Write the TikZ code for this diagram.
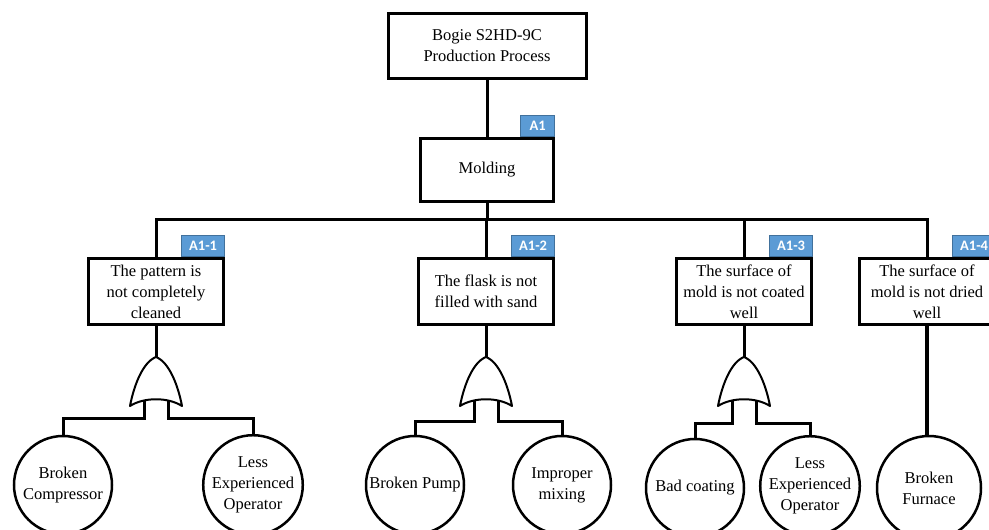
\documentclass[tikz,border=0pt]{standalone}
\usepackage{fontspec}
\setmainfont{Liberation Serif}
\newfontfamily\tagfont{Carlito}
\usetikzlibrary{calc}
\definecolor{tagblue}{HTML}{5B9BD5}
\definecolor{tagedge}{HTML}{41719C}
\begin{document}
\begin{tikzpicture}[x=1pt,y=-1pt,
  every node/.style={font=\fontsize{16.5}{21}\selectfont, align=center},
  box/.style={draw, line width=3pt, fill=white, inner sep=0pt, minimum width=135pt, minimum height=66pt},
  evt/.style={draw, circle, line width=2.5pt, fill=white, inner sep=0pt, minimum size=98pt},
  tag/.style={draw=tagedge, line width=0.8pt, fill=tagblue, text=white, inner sep=0pt,
     minimum height=21pt, minimum width=43pt, font=\tagfont\bfseries\fontsize{14.5}{14.5}\selectfont, anchor=south east},
  conn/.style={line width=3pt, line join=miter},
  gateline/.style={line width=2pt, fill=white, line join=round},
  orgate/.pic={
    \draw[gateline] (0,0) .. controls (13,5) and (22,28) .. (26,49)
       .. controls (12,40) and (-12,40) .. (-26,49)
       .. controls (-22,28) and (-13,5) .. (0,0) -- cycle;
    \coordinate (-top) at (0,0);
    \coordinate (-l) at (-12,44);
    \coordinate (-r) at (12,44);
  }]
\useasboundingbox (0,0) rectangle (989,530);

% top levels
\node[box, minimum width=198pt, minimum height=65pt] (top) at (487,45.5) {Bogie S2HD-9C\\Production Process};
\node[box, minimum width=133pt, minimum height=63pt] (mold) at (487,169.5) {Molding};
\node[tag, minimum width=34pt] (tA1) at (mold.north east) {A1};

% second level boxes
\node[box] (b1) at (156,291.5) {The pattern is\\not completely\\cleaned};
\node[box] (b2) at (486,291.5) {The flask is not\\filled with sand};
\node[box] (b3) at (744,291.5) {The surface of\\mold is not coated\\well};
\node[box] (b4) at (927,291.5) {The surface of\\mold is not dried\\well};
\node[tag] (t1) at (b1.north east) {A1-1};
\node[tag] (t2) at (b2.north east) {A1-2};
\node[tag] (t3) at (b3.north east) {A1-3};
\node[tag] (t4) at (b4.north east) {A1-4};

\coordinate (bus) at (487,219);
\draw[conn] (top.south) -- (mold.north);
\draw[conn] (mold.south) -- (bus);
\draw[conn] (b1.north) -- (b1.north |- bus) -- (b4.north |- bus) -- (b4.north);
\draw[conn] (b2.north) -- (b2.north |- bus);
\draw[conn] (b3.north) -- (b3.north |- bus);

% basic events
\node[evt] (c11) at (63,485) {Broken\\Compressor};
\node[evt] (c12) at (253,485) {Less\\Experienced\\Operator};
\node[evt] (c21) at (415,485) {Broken Pump};
\node[evt] (c22) at (562,485) {Improper\\mixing};
\node[evt] (c31) at (695,488) {Bad coating};
\node[evt] (c32) at (810,486) {Less\\Experienced\\Operator};
\node[evt, minimum size=104pt] (c41) at (929,488) {Broken\\Furnace};

% gates
\pic (g1) at (156,357) {orgate};
\pic (g2) at (486,357) {orgate};
\pic (g3) at (744,357) {orgate};

\draw[conn] (b1.south) -- (g1-top);
\draw[conn] (b2.south) -- (g2-top);
\draw[conn] (b3.south) -- (g3-top);
\draw[line width=4pt] (b4.south) -- (b4.south |- c41.north);

\draw[conn] (g1-l) -- ++(0,17) -| (c11.north);
\draw[conn] (g1-r) -- ++(0,17) -| (c12.north);
\draw[conn] (g2-l) -- ++(0,20) -| (c21.north);
\draw[conn] (g2-r) -- ++(0,20) -| (c22.north);
\draw[conn] (g3-l) -- ++(0,22) -| (c31.north);
\draw[conn] (g3-r) -- ++(0,22) -| (c32.north);
\end{tikzpicture}
\end{document}
